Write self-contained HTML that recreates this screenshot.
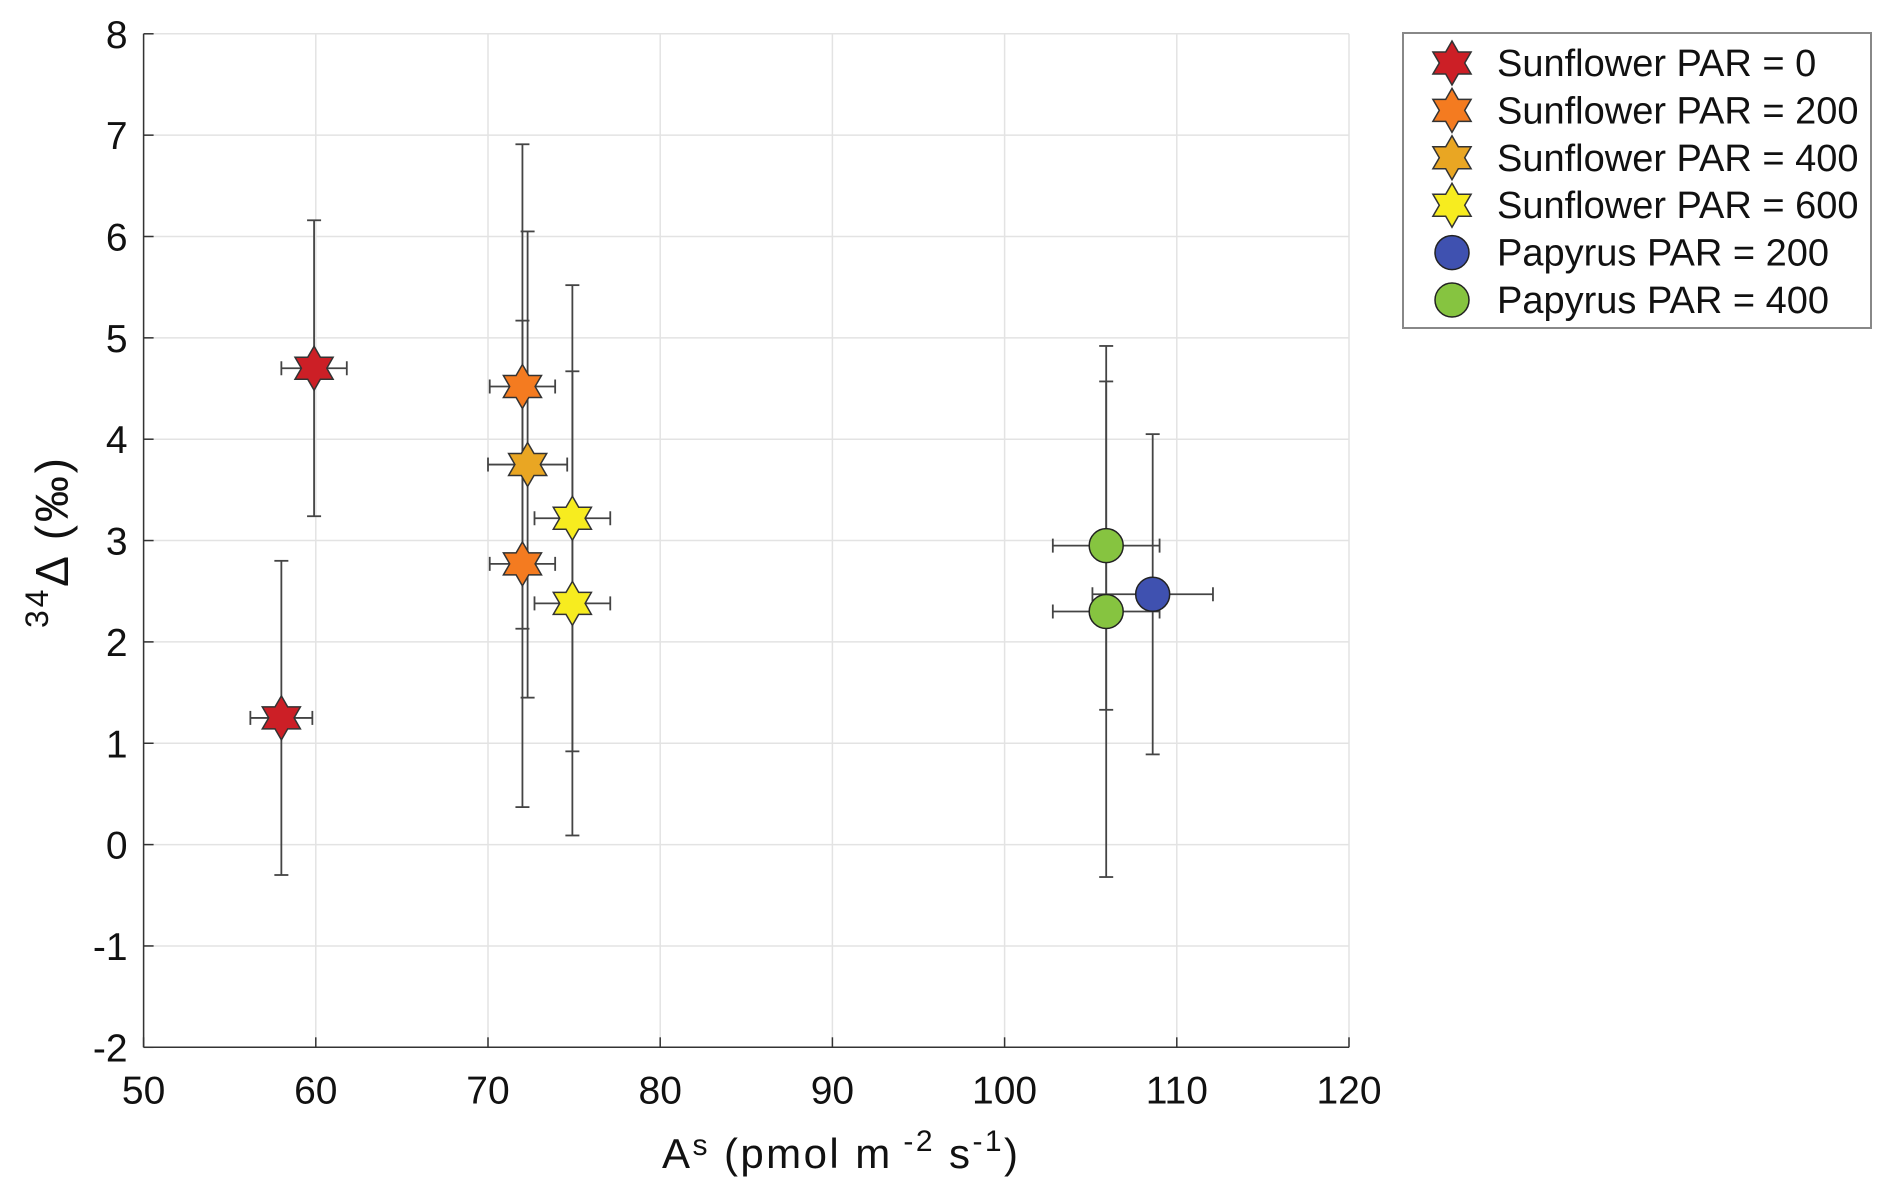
<!DOCTYPE html>
<html><head><meta charset="utf-8"><style>
html,body{margin:0;padding:0;background:#fff;}
svg{display:block;font-family:"Liberation Sans",sans-serif;}
</style></head><body>
<svg id="chart" width="1892" height="1198" viewBox="0 0 1892 1198" xmlns="http://www.w3.org/2000/svg">
<g id="grid"></g>
<g id="axes"></g>
<g id="marks"></g>
<text x="662" y="1168" font-size="42" textLength="356" lengthAdjust="spacing" fill="#111">A<tspan font-size="30" dy="-13">s</tspan><tspan dy="13"> (pmol m</tspan><tspan font-size="30" dy="-17"> -2</tspan><tspan dy="17"> s</tspan><tspan font-size="30" dy="-17">-1</tspan><tspan dy="17">)</tspan></text>
<text transform="translate(68,628) rotate(-90)" font-size="46" textLength="170" lengthAdjust="spacing" fill="#111"><tspan font-size="32" dy="-20">34</tspan><tspan dy="20">Δ (‰)</tspan></text>
<g id="legend">
<rect x="1403" y="33" width="468" height="295" fill="#fff" stroke="#888" stroke-width="2"/>
</g>
</svg>
<script>
const xTicks = [50,60,70,80,90,100,110,120];
const yTicks = [-2,-1,0,1,2,3,4,5,6,7,8];
const seriesNames = ["Sunflower PAR = 0","Sunflower PAR = 200","Sunflower PAR = 400","Sunflower PAR = 600","Papyrus PAR = 200","Papyrus PAR = 400"];
const seriesColors = ["#cc1f26","#f47b20","#e9a623","#f7ec1f","#3f51b0","#86c440"];
const seriesShapes = ["star","star","star","star","circle","circle"];
const pointSeries = [0,0,1,1,2,3,3,4,5,5];
const pointX = [59.9,58.0,72.0,72.0,72.3,74.9,74.9,108.6,105.9,105.9];
const pointY = [4.70,1.25,4.52,2.77,3.75,3.22,2.38,2.47,2.95,2.30];
const pointXErr = [1.9,1.8,1.9,1.9,2.3,2.2,2.2,3.5,3.1,3.1];
const pointYErr = [1.46,1.55,2.39,2.40,2.30,2.30,2.29,1.58,1.62,2.62];

const L=143.6,R=1349,T=33.8,B=1047.3;
const xMin=50,xMax=120,yMin=-2,yMax=8;
const sx=v=>L+(v-xMin)/(xMax-xMin)*(R-L);
const sy=v=>B-(v-yMin)/(yMax-yMin)*(B-T);
const NS="http://www.w3.org/2000/svg";
function mk(tag,attrs,parent){const e=document.createElementNS(NS,tag);for(const k in attrs)e.setAttribute(k,attrs[k]);parent.appendChild(e);return e;}
const grid=document.getElementById('grid'),axes=document.getElementById('axes'),marks=document.getElementById('marks'),legend=document.getElementById('legend');
mk('rect',{x:L,y:T,width:R-L,height:B-T,fill:'#fff'},grid);
xTicks.forEach(t=>{const l=mk('line',{x1:sx(t),x2:sx(t),y1:T,y2:B,stroke:'#e3e3e3','stroke-width':1.5},grid);

mk('line',{x1:sx(t),x2:sx(t),y1:B,y2:B-10,stroke:'#333','stroke-width':1.5},axes);
const tx=mk('text',{x:sx(t),y:B+56,'font-size':39,'text-anchor':'middle',fill:'#111'},axes);tx.textContent=t;
});
yTicks.forEach(t=>{const l=mk('line',{x1:L,x2:R,y1:sy(t),y2:sy(t),stroke:'#e3e3e3','stroke-width':1.5},grid);

mk('line',{x1:L,x2:L+10,y1:sy(t),y2:sy(t),stroke:'#333','stroke-width':1.5},axes);
const tx=mk('text',{x:L-16,y:sy(t)+14,'font-size':39,'text-anchor':'end',fill:'#111'},axes);tx.textContent=t;
});
mk('line',{x1:L,x2:L,y1:T,y2:B,stroke:'#333','stroke-width':1.5},axes);
mk('line',{x1:L,x2:R,y1:B,y2:B,stroke:'#333','stroke-width':1.5},axes);

function starPts(cx,cy,r){const ri=r*0.577;let p=[];for(let i=0;i<12;i++){const a=-Math.PI/2+i*Math.PI/6;const rr=i%2?ri:r;p.push((cx+rr*Math.cos(a)).toFixed(1)+','+(cy+rr*Math.sin(a)).toFixed(1));}return p.join(' ');}
function marker(shape,color,cx,cy,parent){
 if(shape==='star')return mk('polygon',{points:starPts(cx,cy,22),fill:color,stroke:'#333','stroke-width':1.5},parent);
 return mk('circle',{cx:cx,cy:cy,r:17,fill:color,stroke:'#222','stroke-width':1.5},parent);}

const eb=mk('g',{},marks);
pointX.forEach((x,i)=>{const cx=sx(x),cy=sy(pointY[i]);
 const g=mk('g',{stroke:'#444','stroke-width':1.8},eb);
 
 const y1=sy(pointY[i]-pointYErr[i]),y2=sy(pointY[i]+pointYErr[i]);
 const x1=sx(x-pointXErr[i]),x2=sx(x+pointXErr[i]);
 mk('line',{x1:cx,x2:cx,y1:y1,y2:y2},g);
 mk('line',{x1:cx-7,x2:cx+7,y1:y1,y2:y1},g);mk('line',{x1:cx-7,x2:cx+7,y1:y2,y2:y2},g);
 mk('line',{x1:x1,x2:x2,y1:cy,y2:cy},g);
 mk('line',{x1:x1,x2:x1,y1:cy-7,y2:cy+7},g);mk('line',{x1:x2,x2:x2,y1:cy-7,y2:cy+7},g);});
pointX.forEach((x,i)=>{const s=pointSeries[i];
 const m=marker(seriesShapes[s],seriesColors[s],sx(x),sy(pointY[i]),marks);
 });

seriesNames.forEach((n,i)=>{const y=63+i*47.4;
 const m=marker(seriesShapes[i],seriesColors[i],1452,y,legend);
 
 const t=mk('text',{x:1497,y:y+13,'font-size':38,fill:'#111'},legend);t.textContent=n;
 });
</script>
</body></html>
